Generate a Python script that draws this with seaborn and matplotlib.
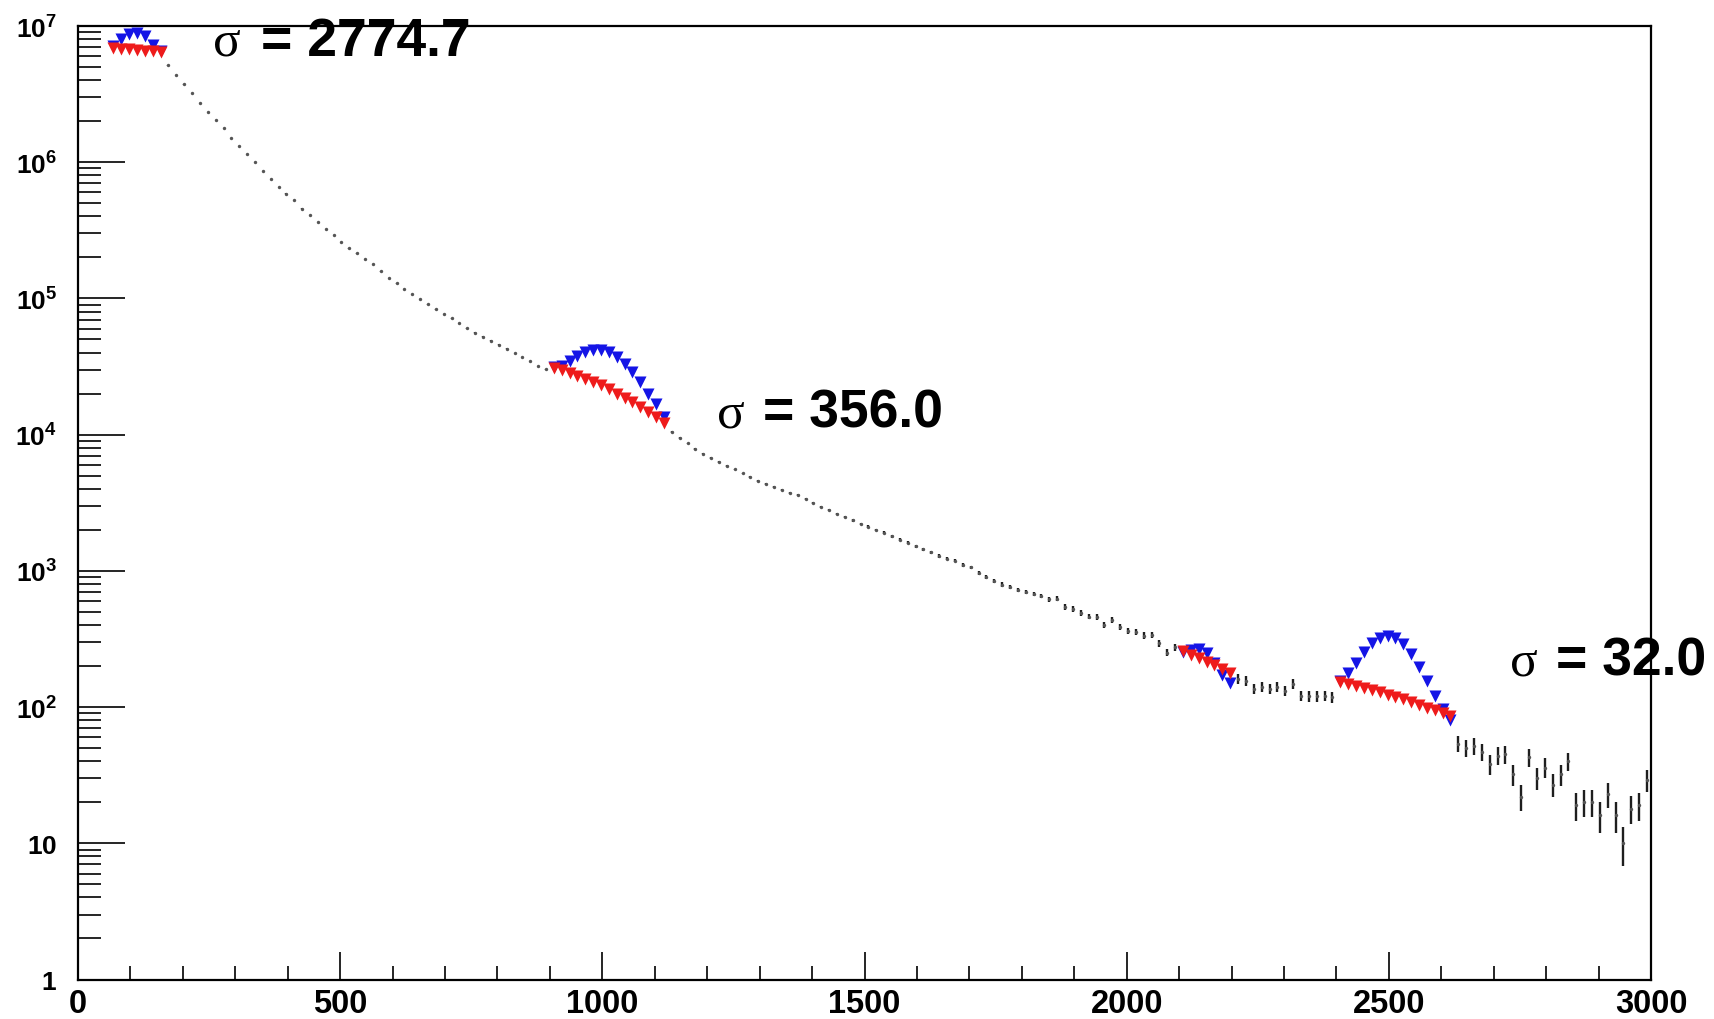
import numpy as np
import pandas as pd
import matplotlib
matplotlib.use("Agg")
import matplotlib.pyplot as plt
import seaborn as sns
from matplotlib import font_manager
from matplotlib.ticker import FixedLocator, FixedFormatter, MultipleLocator, NullFormatter

# ---------------- data ----------------
BIN_WIDTH = 15.0

# measured histogram segments (bin centre of first bin, counts)
seg1_start = 172.5
seg1_counts = [5.13e6, 4.37e6, 3.72e6, 3.24e6, 2.72e6, 2.34e6, 2.04e6, 1.78e6, 1.51e6, 1.32e6,
               1.15e6, 1.00e6, 8.61e5, 7.52e5, 6.61e5, 5.89e5, 5.25e5, 4.57e5, 4.07e5, 3.63e5,
               3.24e5, 2.92e5, 2.61e5, 2.33e5, 2.14e5, 1.95e5, 1.78e5, 1.58e5, 1.41e5, 1.29e5,
               1.17e5, 1.08e5, 9.91e4, 9.04e4, 8.32e4, 7.69e4, 7.14e4, 6.61e4, 6.03e4, 5.62e4,
               5.25e4, 4.90e4, 4.57e4, 4.27e4, 3.98e4, 3.72e4, 3.47e4, 3.20e4, 3.02e4]

seg2_start = 1132.5
seg2_counts = [10470, 9441, 8610, 7852, 7244, 6761, 6310, 5888, 5559, 5188,
               4898, 4571, 4365, 4121, 3936, 3758, 3589, 3388, 3162, 2951,
               2786, 2630, 2483, 2344, 2213, 2113, 1995, 1905, 1799, 1698,
               1603, 1514, 1445, 1365, 1288, 1230, 1189, 1109, 1059, 966,
               902, 841, 794, 759, 724, 700, 676, 653, 617, 624,
               543, 525, 490, 462, 457, 398, 437, 385, 363, 355,
               335, 339, 295, 251, 275]

seg3_start = 2212.5
seg3_counts = [161, 156, 136, 140, 136, 140, 132, 148, 121, 120, 120, 121, 118]

seg4_start = 2632.5
seg4_counts = [54, 50, 52, 47, 38, 44, 45, 32, 22, 43, 30, 36, 27, 32, 40,
               19, 20, 20, 16, 23, 16, 10, 18, 19, 29]

# fitted functions evaluated at bin centres: background (red) and total (blue)
fit1_start = 67.5
fit1_bkg = [6.85e6, 6.8e6, 6.75e6, 6.7e6, 6.6e6, 6.5e6, 6.4e6]
fit1_tot = [7.1e6, 8.0e6, 8.7e6, 8.9e6, 8.4e6, 7.3e6, 6.6e6]

fit2_start = 907.5
fit2_bkg = [31000, 29700, 28400, 27100, 25800, 24400, 23000, 21500, 20000, 18700,
            17300, 16000, 14700, 13400, 12100]
fit2_tot = [31500, 32100, 34900, 37600, 40300, 41900, 41900, 40300, 37000, 33100,
            28800, 24300, 20000, 16800, 13400]

fit3_start = 2107.5
fit3_bkg = [258, 243, 229, 215, 202, 189, 177]
fit3_tot = [252, 262, 266, 250, 212, 172, 150]

fit4_start = 2407.5
fit4_bkg = [152, 147, 142, 138, 133, 128, 123, 118, 114, 109, 104, 99, 95, 90, 86]
fit4_tot = [156, 178, 212, 255, 295, 322, 332, 320, 290, 245, 198, 155, 120, 96, 80]

sigma_values = ["2774.7", "356.0", "32.0"]

x_major = [0, 500, 1000, 1500, 2000, 2500, 3000]
y_exponents = [0, 1, 2, 3, 4, 5, 6, 7]

# ---------------- build tables ----------------
def centres(start, n):
    return start + BIN_WIDTH * np.arange(n)

data_df = pd.concat([
    pd.DataFrame({"x": centres(s, len(c)), "y": np.asarray(c, float)})
    for s, c in [(seg1_start, seg1_counts), (seg2_start, seg2_counts),
                 (seg3_start, seg3_counts), (seg4_start, seg4_counts)]
], ignore_index=True)

fit_df = pd.concat([
    pd.DataFrame({"x": centres(s, len(b)), "bkg": np.asarray(b, float), "tot": np.asarray(t, float)})
    for s, b, t in [(fit1_start, fit1_bkg, fit1_tot), (fit2_start, fit2_bkg, fit2_tot),
                    (fit3_start, fit3_bkg, fit3_tot), (fit4_start, fit4_bkg, fit4_tot)]
], ignore_index=True)

# ---------------- style ----------------
sns.set_theme(style="white")
plt.rcParams["font.family"] = ["Liberation Sans", "DejaVu Sans"]

installed = {f.name for f in font_manager.fontManager.ttflist}
YTICK_FAMILY = "Liberation Sans Narrow" if "Liberation Sans Narrow" in installed else "Liberation Sans"
YTICK_SIZE = 22.5 if YTICK_FAMILY == "Liberation Sans Narrow" else 19
XTICK_FAMILY = "Liberation Sans"
XTICK_SIZE = 23.5

plt.rcParams["mathtext.fontset"] = "custom"
plt.rcParams["mathtext.rm"] = YTICK_FAMILY + ":bold"
plt.rcParams["mathtext.it"] = YTICK_FAMILY + ":bold"
plt.rcParams["mathtext.bf"] = YTICK_FAMILY + ":bold"

W, H = 1714, 1020
fig = plt.figure(figsize=(W / 100, H / 100), dpi=100)
fig.patch.set_facecolor("white")
L, R, T, B = 78, 1651, 27, 980.5
ax = fig.add_axes([L / W, 1 - B / H, (R - L) / W, (B - T) / H])
ax.set_facecolor("white")
ax.set_yscale("log")

# data with Poisson error bars
ax.errorbar(data_df["x"], data_df["y"], yerr=np.sqrt(data_df["y"]), fmt="none",
            ecolor="#1e1e1e", elinewidth=1.7, capsize=0, zorder=2)
sns.scatterplot(data=data_df, x="x", y="y", ax=ax, s=6, color="#555555",
                linewidth=0, zorder=3, legend=False)

# fit markers
sns.scatterplot(data=fit_df, x="x", y="tot", ax=ax, marker="v", s=75,
                color="#1414e6", linewidth=0, zorder=4, legend=False)
sns.scatterplot(data=fit_df, x="x", y="bkg", ax=ax, marker="v", s=75,
                color="#ee1b1b", linewidth=0, zorder=5, legend=False)

ax.set_xlim(0, 3000)
ax.set_ylim(1, 1e7)
ax.set_xlabel("")
ax.set_ylabel("")

for sp in ax.spines.values():
    sp.set_visible(True)
    sp.set_color("black")
    sp.set_linewidth(1.6)

ax.xaxis.set_major_locator(FixedLocator(x_major))
ax.xaxis.set_major_formatter(FixedFormatter([str(v) for v in x_major]))
ax.xaxis.set_minor_locator(MultipleLocator(100))
ax.yaxis.set_major_locator(FixedLocator([10.0 ** e for e in y_exponents]))
ylabels = []
for e in y_exponents:
    if e == 0:
        ylabels.append(r"$\mathrm{1}$")
    elif e == 1:
        ylabels.append(r"$\mathrm{10}$")
    else:
        ylabels.append(r"$\mathrm{10^{%d}}$" % e)
ax.yaxis.set_major_formatter(FixedFormatter(ylabels))
ax.yaxis.set_minor_locator(FixedLocator([k * 10.0 ** d for d in range(0, 7) for k in range(2, 10)]))
ax.yaxis.set_minor_formatter(NullFormatter())

ax.tick_params(axis="x", which="major", direction="in", length=20, width=1.2,
               pad=6, labelsize=XTICK_SIZE, top=False, bottom=True, colors="black")
ax.tick_params(axis="x", which="minor", direction="in", length=10, width=1.2,
               top=False, bottom=True, colors="black")
ax.tick_params(axis="y", which="major", direction="in", length=34, width=1.2,
               pad=15, labelsize=YTICK_SIZE, left=True, right=False, colors="black")
ax.tick_params(axis="y", which="minor", direction="in", length=16.5, width=1.2,
               left=True, right=False, colors="black")
for lbl in ax.get_xticklabels():
    lbl.set_fontweight("bold")
    lbl.set_family(XTICK_FAMILY)

# sigma annotations (figure pixel positions: sigma left, '=' left, baseline)
sigma_pos = [(213, 261, 56), (717, 763, 428), (1510, 1556, 676)]
for val, (xs, xe, yb) in zip(sigma_values, sigma_pos):
    fig.text(xs / W, 1 - yb / H, "σ", family=["Liberation Serif", "DejaVu Serif"],
             fontsize=37, va="baseline", ha="left", color="black", zorder=10)
    fig.text(xe / W, 1 - yb / H, "= " + val, fontsize=38.5, fontweight="bold",
             va="baseline", ha="left", color="black", zorder=10)

fig.savefig("out.png", dpi=100, facecolor="white")
